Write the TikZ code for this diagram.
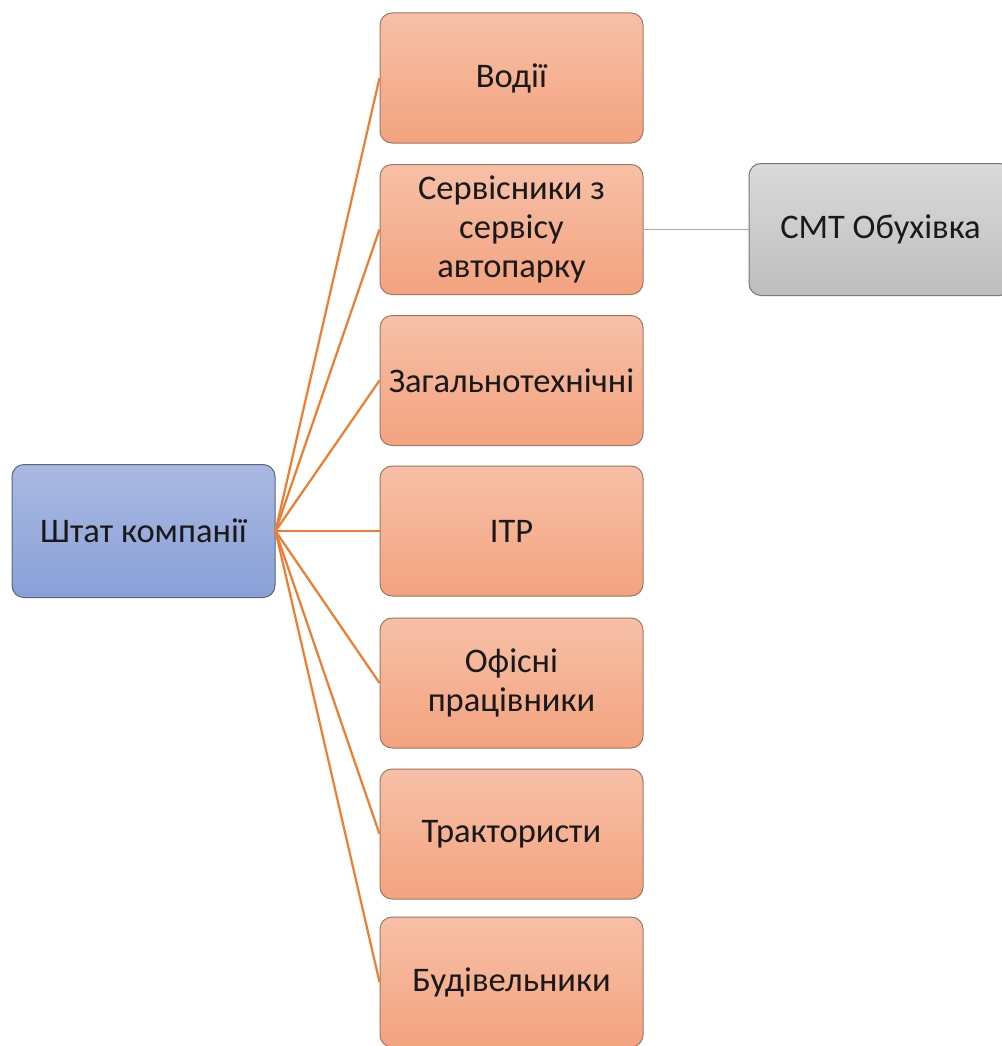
\documentclass[tikz,border=0pt]{standalone}
\usepackage{fontspec}
\setmainfont{Carlito}
\definecolor{orTop}{RGB}{247,192,167}
\definecolor{orBot}{RGB}{243,163,127}
\definecolor{orLine}{RGB}{237,125,49}
\definecolor{orDraw}{RGB}{160,120,100}
\definecolor{blTop}{RGB}{170,185,226}
\definecolor{blBot}{RGB}{137,160,216}
\definecolor{blDraw}{RGB}{90,100,125}
\definecolor{grTop}{RGB}{218,218,218}
\definecolor{grBot}{RGB}{190,190,190}
\definecolor{grDraw}{RGB}{120,120,120}
\definecolor{grLine}{RGB}{170,170,170}
\begin{document}
\begin{tikzpicture}[x=1pt,y=-1pt,
  box/.style={rectangle, rounded corners=12pt, minimum width=263pt, minimum height=130pt,
    align=center, inner sep=0pt, line width=1pt,
    font=\fontsize{34.5}{39}\selectfont, text=black!90},
  orbox/.style={box, draw=orDraw, top color=orTop, bottom color=orBot},
  hubbox/.style={box, draw=blDraw, top color=blTop, bottom color=blBot, minimum height=133pt},
  grbox/.style={box, draw=grDraw, top color=grTop, bottom color=grBot, minimum height=132pt},
  conn/.style={draw=orLine, line width=2.2pt},
  gconn/.style={draw=grLine, line width=1.5pt}]
\useasboundingbox (0,0) rectangle (1001,1046);
\node[hubbox] (hub) at (143.5,531) {Штат компанії};
\node[orbox] (n1) at (511.5,78) {Водії};
\node[orbox] (n2) at (511.5,229.5) {Сервісники з\\сервісу\\автопарку};
\node[orbox] (n3) at (511.5,380.5) {Загальнотехнічні};
\node[orbox] (n4) at (511.5,531) {ІТР};
\node[orbox] (n5) at (511.5,683) {Офісні\\працівники};
\node[orbox] (n6) at (511.5,834) {Трактористи};
\node[orbox] (n7) at (511.5,982) {Будівельники};
\node[grbox] (smt) at (880.5,229.5) {СМТ Обухівка};
\foreach \n in {n1,n2,n3,n4,n5,n6,n7}{
  \draw[conn] (hub.east) -- (\n.west);
}
\draw[gconn] (n2.east) -- (smt.west);
\end{tikzpicture}
\end{document}
